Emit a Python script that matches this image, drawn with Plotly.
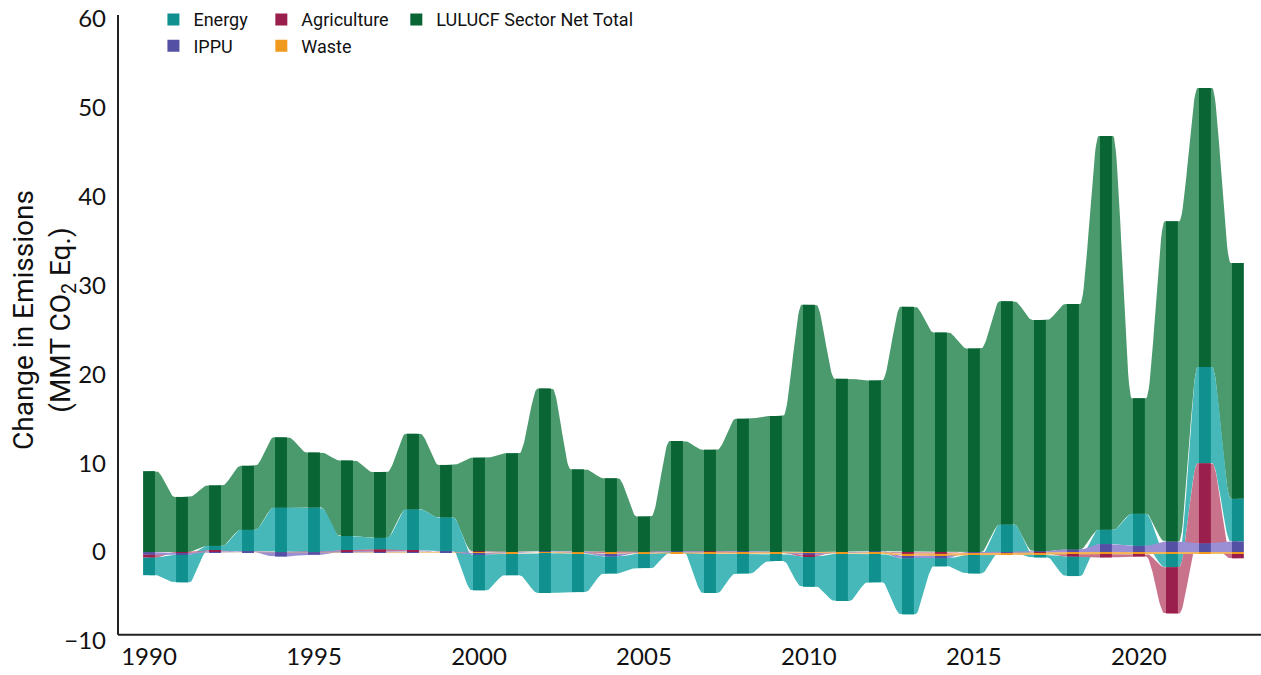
import numpy as np
import plotly.graph_objects as go

years = list(range(1990, 2024))

energy = [-2.0, -3.1, 0.5, 2.4, 5.0, 5.0, 1.6, 1.3, 4.6, 3.8,
          -4.0, -2.4, -4.5, -4.3, -1.9, -1.6, -0.1, -4.4, -2.2, -0.8,
          -3.4, -5.3, -3.2, -6.3, -0.9, -2.1, 3.1, -0.3, -2.2, 1.6,
          3.6, -1.5, 10.8, 4.8]
ippu = [-0.3, -0.2, 0.1, 0.1, -0.5, -0.3, 0.1, 0.1, 0.1, 0.1,
        -0.2, -0.1, 0.1, -0.1, -0.3, -0.1, 0.1, -0.1, 0.1, -0.1,
        -0.2, -0.1, 0.1, -0.3, -0.3, -0.1, -0.1, 0.1, 0.3, 0.9,
        0.7, 1.2, 1.0, 1.2]
agriculture = [-0.3, -0.1, 0.1, 0.0, 0.0, 0.0, 0.1, 0.2, 0.1, 0.0,
               0.1, 0.0, 0.0, 0.0, -0.1, 0.0, 0.0, 0.1, -0.1, 0.0,
               -0.2, 0.0, 0.0, -0.2, -0.2, 0.0, 0.0, -0.1, -0.3, -0.4,
               -0.3, -5.2, 9.0, -0.5]
waste = [0.0, 0.0, 0.0, 0.0, 0.0, 0.0, 0.0, 0.0, 0.0, 0.0,
         -0.1, -0.1, -0.1, -0.1, -0.1, -0.1, -0.1, -0.1, -0.1, -0.1,
         -0.1, -0.1, -0.2, -0.2, -0.2, -0.2, -0.2, -0.2, -0.2, -0.2,
         -0.2, -0.2, -0.2, -0.2]
lulucf = [9.1, 6.2, 6.8, 7.2, 7.9, 6.2, 8.5, 7.4, 8.5, 5.9,
          10.5, 11.1, 18.3, 9.3, 8.3, 4.0, 12.4, 11.4, 14.9, 15.3,
          27.8, 19.5, 19.2, 27.6, 24.7, 22.9, 25.1, 26.0, 27.6, 44.3,
          13.0, 36.0, 31.4, 26.5]

x_ticks = [1990, 1995, 2000, 2005, 2010, 2015, 2020]
y_ticks = [-10, 0, 10, 20, 30, 40, 50, 60]

LUL = "LULUCF Sector Net Total"
series = {"Energy": energy, "IPPU": ippu, "Agriculture": agriculture,
          "Waste": waste, LUL: lulucf}
dark = {"Energy": "#10908e", "IPPU": "#5450a4", "Agriculture": "#9a1f4c",
        "Waste": "#f0991f", LUL: "#0a6535"}
light = {"Energy": "#47b8b9", "IPPU": "#9a8fd4", "Agriculture": "#c8728c",
         "Waste": "#f5b55a", LUL: "#4b9a6d"}

names = list(series)
n = len(years)
lo = {k: np.zeros(n) for k in names}
hi = {k: np.zeros(n) for k in names}
for i in range(n):
    pos = [k for k in names if k != LUL and series[k][i] > 0]
    pos.sort(key=lambda k: series[k][i])
    pos.append(LUL)
    neg = [k for k in names if k != LUL and series[k][i] <= 0]
    neg.sort(key=lambda k: -series[k][i])
    c = 0.0
    for k in pos:
        lo[k][i] = c
        c += series[k][i]
        hi[k][i] = c
    c = 0.0
    for k in neg:
        hi[k][i] = c
        c += series[k][i]
        lo[k][i] = c


def smooth(vals):
    xs, ys = [], []
    t = np.linspace(0, 1, 22)
    s = t * t * (3 - 2 * t)
    for i in range(n - 1):
        x0, x1 = years[i], years[i + 1]
        a, b = x0 + 0.22, x1 - 0.22
        xs += [x0] + list(a + (b - a) * t)
        ys += [vals[i]] + list(vals[i] + (vals[i + 1] - vals[i]) * s)
    xs.append(years[-1])
    ys.append(vals[-1])
    return xs, ys


fig = go.Figure()

area_order = [LUL, "Energy", "Agriculture", "IPPU", "Waste"]
for k in area_order:
    xs, yh = smooth(hi[k])
    _, yl = smooth(lo[k])
    fig.add_trace(go.Scatter(
        x=xs + xs[::-1], y=yh + yl[::-1], fill="toself", mode="lines",
        line=dict(width=0), fillcolor=light[k], showlegend=False,
        hoverinfo="skip", xaxis="x", yaxis="y"))

legend_map = {"Energy": "legend", "IPPU": "legend",
              "Agriculture": "legend2", "Waste": "legend2", LUL: "legend3"}
for k in ["Energy", "IPPU", "Agriculture", "Waste", LUL]:
    fig.add_trace(go.Bar(
        x=years, y=list(hi[k] - lo[k]), base=list(lo[k]), width=0.36,
        name=k, marker=dict(color=dark[k], line=dict(width=0)),
        xaxis="x2", yaxis="y2", legend=legend_map[k]))

xr = [1989.06, 2023.70]
yr = [-10, 61.52]
tick_font = dict(family="Lato", size=24, color="#111")
leg_font = dict(family="Roboto", size=18, color="#111")
leg_common = dict(orientation="v", y=1.006, xanchor="left", yanchor="top",
                  font=leg_font, bgcolor="rgba(0,0,0,0)")
fig.update_layout(
    width=1261, height=675,
    margin=dict(l=118, r=0, t=5, b=34),
    paper_bgcolor="white", plot_bgcolor="white",
    barmode="overlay",
    xaxis=dict(range=xr, tickvals=x_ticks, showgrid=False, zeroline=False,
               showline=False, ticks="", tickfont=tick_font,
               ticklabelstandoff=-1),
    yaxis=dict(range=yr, tickvals=y_ticks, showgrid=False, zeroline=False,
               showline=False, ticks="", tickfont=tick_font,
               ticklabelstandoff=11),
    xaxis2=dict(range=xr, overlaying="x", visible=False),
    yaxis2=dict(range=yr, overlaying="y", visible=False),
    legend=dict(x=0.031, **leg_common),
    legend2=dict(x=0.1254, **leg_common),
    legend3=dict(x=0.2435, **leg_common),
    shapes=[
        dict(type="line", xref="paper", yref="y", x0=0, x1=0, y0=-9.3, y1=60.4,
             line=dict(color="#222", width=2)),
        dict(type="line", xref="paper", yref="y", x0=0, x1=1, y0=-9.3, y1=-9.3,
             line=dict(color="#222", width=2)),
    ],
    annotations=[
        dict(text="Change in Emissions<br>(MMT CO<sub>2</sub> Eq.)",
             textangle=-90, xref="paper", yref="paper", x=-0.0646, y=0.505,
             xanchor="center", yanchor="middle", showarrow=False,
             font=dict(family="Roboto", size=28, color="#111")),
    ],
)

fig.write_html("out.html", config={"displayModeBar": False},
               post_script="document.body.style.margin='0px';")
